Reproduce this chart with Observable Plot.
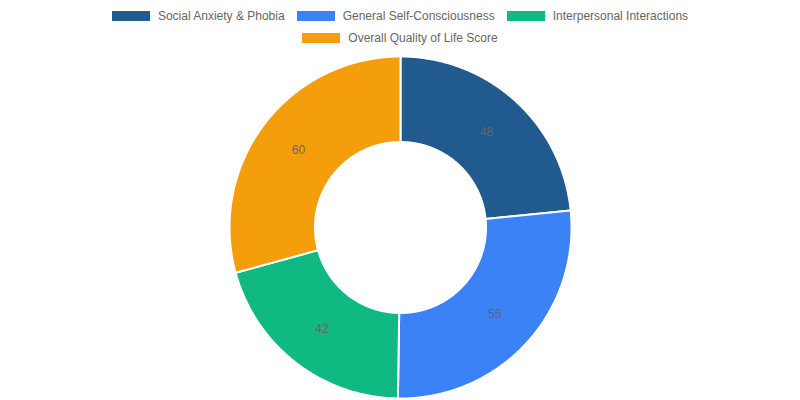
<!DOCTYPE html>
<html>
<head>
<meta charset="utf-8">
<script src="https://cdn.jsdelivr.net/npm/d3@7"></script>
<script src="https://cdn.jsdelivr.net/npm/@observablehq/plot@0.6"></script>
<style>
  html, body { margin: 0; padding: 0; background: #fff; }
  body { width: 800px; height: 400px; overflow: hidden; font-family: "Liberation Sans", Arial, Helvetica, sans-serif; }
  #legend { box-sizing: border-box; width: 800px; height: 54px; padding: 10px 80px 0 80px; display: flex; flex-wrap: wrap; justify-content: center; align-content: flex-start; row-gap: 10px; }
  .item { display: flex; align-items: center; height: 12px; margin: 0 6px; font-size: 12px; color: #666; white-space: nowrap; }
  .sw { width: 38px; height: 10px; margin-right: 8px; }
  #chart svg { display: block; }
</style>
</head>
<body>
<div id="legend"></div>
<div id="chart"></div>
<script>
const categories = ["Social Anxiety & Phobia", "General Self-Consciousness", "Interpersonal Interactions", "Overall Quality of Life Score"];
const values = [48, 55, 42, 60];
const colors = ["#215a8e", "#3b82f6", "#10b981", "#f59e0b"];

const data = categories.map((c, i) => ({category: c, value: values[i]}));

// legend
const legend = document.getElementById("legend");
categories.forEach((c, i) => {
  const it = document.createElement("div");
  it.className = "item";
  it.innerHTML = `<span class="sw" style="background:${colors[i]}"></span><span>${c}</span>`;
  legend.appendChild(it);
});

const pie = d3.pie().value(d => d.value).sort(null)(data);
const rOuter = 1, rInner = 0.5;

const rings = [];
pie.forEach(p => {
  const n = Math.max(8, Math.ceil((p.endAngle - p.startAngle) / 0.005));
  const pts = [];
  for (let k = 0; k <= n; k++) {
    const a = p.startAngle + (p.endAngle - p.startAngle) * k / n;
    pts.push([rOuter * Math.sin(a), rOuter * Math.cos(a)]);
  }
  for (let k = n; k >= 0; k--) {
    const a = p.startAngle + (p.endAngle - p.startAngle) * k / n;
    pts.push([rInner * Math.sin(a), rInner * Math.cos(a)]);
  }
  pts.push(pts[0]);
  pts.forEach(([x, y]) => rings.push({category: p.data.category, x, y}));
});

const labels = pie.map(p => {
  const a = (p.startAngle + p.endAngle) / 2;
  const r = (rOuter + rInner) / 2;
  return {category: p.data.category, value: p.data.value, x: r * Math.sin(a), y: r * Math.cos(a)};
});

const chart = Plot.plot({
  width: 800,
  height: 346,
  marginLeft: 229,
  marginRight: 229,
  marginTop: 2,
  marginBottom: 2,
  x: {domain: [-1, 1], axis: null},
  y: {domain: [-1, 1], axis: null},
  color: {domain: categories, range: colors, legend: false},
  style: {fontFamily: '"Liberation Sans", Arial, Helvetica, sans-serif', background: "#fff", overflow: "visible"},
  marks: [
    Plot.line(rings, {x: "x", y: "y", z: "category", fill: "category", stroke: "#fff", strokeWidth: 2, strokeLinejoin: "round", curve: "linear"}),
    Plot.text(labels, {x: "x", y: "y", text: d => String(d.value), fill: "#666", fontSize: 12})
  ]
});
document.getElementById("chart").appendChild(chart);
</script>
</body>
</html>
